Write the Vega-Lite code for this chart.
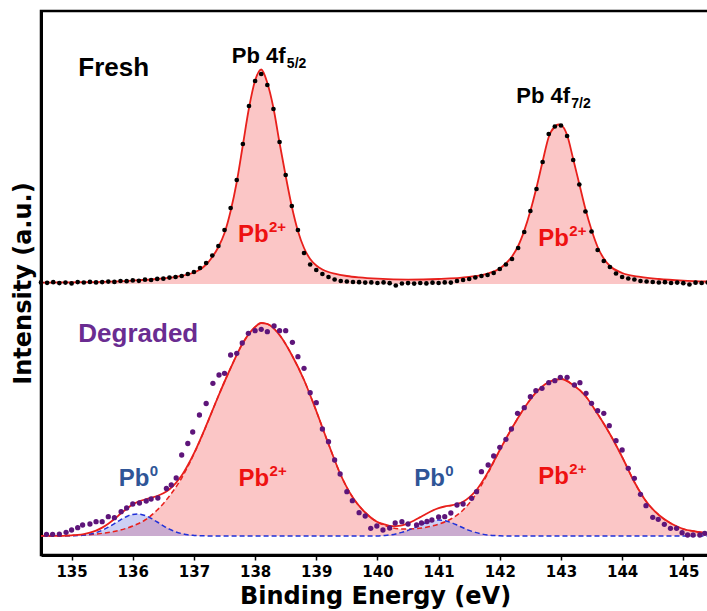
{
  "$schema": "https://vega.github.io/schema/vega-lite/v6.json",
  "width": 668,
  "height": 544,
  "autosize": {"type": "none"},
  "padding": {"left": 41, "top": 11, "right": 0, "bottom": 56},
  "background": "white",
  "config": {"view": {"stroke": "black", "strokeWidth": 2.5}, "axis": {"grid": false}},
  "resolve": {"scale": {"color": "independent"}},
  "datasets": {
    "fresh_fit": [
      {"E":134.5,"I":272.3},{"E":135.0,"I":272.7},{"E":135.5,"I":273.2},{"E":136.0,"I":274.4},{"E":136.4,"I":276.0},{"E":136.7,"I":278.1},
      {"E":137.0,"I":282.5},{"E":137.1,"I":285.5},{"E":137.2,"I":290.5},{"E":137.3,"I":298.0},{"E":137.4,"I":308.0},{"E":137.5,"I":322.0},
      {"E":137.6,"I":344.0},{"E":137.7,"I":373.0},{"E":137.8,"I":410.0},{"E":137.9,"I":447.0},{"E":138.0,"I":474.5},{"E":138.1,"I":485.5},
      {"E":138.2,"I":472.0},{"E":138.3,"I":447.0},{"E":138.4,"I":412.0},{"E":138.5,"I":379.0},{"E":138.6,"I":348.5},{"E":138.7,"I":324.0},
      {"E":138.8,"I":307.0},{"E":138.9,"I":296.0},{"E":139.0,"I":289.5},{"E":139.1,"I":285.5},{"E":139.2,"I":283.0},{"E":139.3,"I":281.3},
      {"E":139.5,"I":279.0},{"E":139.7,"I":277.6},{"E":140.0,"I":276.3},{"E":140.5,"I":275.4},{"E":141.0,"I":276.0},{"E":141.5,"I":278.1},
      {"E":141.8,"I":281.4},{"E":142.0,"I":286.6},{"E":142.1,"I":291.5},{"E":142.2,"I":298.6},{"E":142.3,"I":309.0},{"E":142.4,"I":324.4},
      {"E":142.5,"I":344.0},{"E":142.6,"I":367.5},{"E":142.7,"I":393.5},{"E":142.8,"I":418.0},{"E":142.9,"I":428.5},{"E":142.96,"I":430.5},
      {"E":143.0,"I":430.0},{"E":143.1,"I":420.0},{"E":143.2,"I":396.0},{"E":143.3,"I":371.0},{"E":143.4,"I":346.0},{"E":143.5,"I":325.0},
      {"E":143.6,"I":308.0},{"E":143.7,"I":296.5},{"E":143.8,"I":289.0},{"E":144.0,"I":282.0},{"E":144.3,"I":278.1},{"E":144.6,"I":276.0},
      {"E":145.0,"I":274.4},{"E":145.4,"I":273.5}
    ],
    "fresh_dots": [
      {"E":134.5,"I":272.6},{"E":134.6,"I":272.2},{"E":134.7,"I":272.8},{"E":134.8,"I":271.9},{"E":134.9,"I":272.4},{"E":135.0,"I":271.6},
      {"E":135.1,"I":272.9},{"E":135.2,"I":272.5},{"E":135.3,"I":273.1},{"E":135.4,"I":272.6},{"E":135.5,"I":272.9},{"E":135.6,"I":273.4},
      {"E":135.7,"I":273.1},{"E":135.8,"I":274.0},{"E":135.9,"I":273.8},{"E":136.0,"I":274.6},{"E":136.1,"I":274.2},{"E":136.2,"I":275.3},
      {"E":136.3,"I":275.0},{"E":136.4,"I":276.1},{"E":136.5,"I":276.3},{"E":136.6,"I":277.4},{"E":136.7,"I":278.0},{"E":136.8,"I":279.0},
      {"E":136.9,"I":281.0},{"E":137.0,"I":283.0},{"E":137.1,"I":287.0},{"E":137.2,"I":292.0},{"E":137.3,"I":299.5},{"E":137.4,"I":309.0},
      {"E":137.5,"I":325.0},{"E":137.6,"I":347.0},{"E":137.7,"I":375.0},{"E":137.8,"I":411.0},{"E":137.9,"I":449.0},{"E":138.0,"I":474.0},
      {"E":138.1,"I":481.0},{"E":138.2,"I":470.0},{"E":138.3,"I":446.0},{"E":138.4,"I":413.0},{"E":138.5,"I":380.0},{"E":138.6,"I":349.0},
      {"E":138.7,"I":325.0},{"E":138.8,"I":302.0},{"E":138.9,"I":290.5},{"E":139.0,"I":285.0},{"E":139.1,"I":281.0},{"E":139.2,"I":278.0},
      {"E":139.3,"I":275.5},{"E":139.4,"I":274.0},{"E":139.5,"I":273.5},{"E":139.6,"I":273.0},{"E":139.7,"I":272.8},{"E":139.8,"I":272.4},
      {"E":139.9,"I":272.6},{"E":140.0,"I":272.0},{"E":140.1,"I":272.6},{"E":140.2,"I":271.8},{"E":140.3,"I":269.5},{"E":140.4,"I":271.5},
      {"E":140.5,"I":271.9},{"E":140.6,"I":271.4},{"E":140.7,"I":272.0},{"E":140.8,"I":271.6},{"E":140.9,"I":272.3},{"E":141.0,"I":272.0},
      {"E":141.1,"I":272.6},{"E":141.2,"I":272.4},{"E":141.3,"I":274.0},{"E":141.4,"I":275.0},{"E":141.5,"I":276.0},{"E":141.6,"I":277.5},
      {"E":141.7,"I":279.0},{"E":141.8,"I":280.0},{"E":141.9,"I":282.0},{"E":142.0,"I":286.0},{"E":142.1,"I":290.5},{"E":142.2,"I":296.0},
      {"E":142.3,"I":307.0},{"E":142.4,"I":323.0},{"E":142.5,"I":344.0},{"E":142.6,"I":366.0},{"E":142.7,"I":393.0},{"E":142.8,"I":421.0},
      {"E":142.9,"I":428.5},{"E":143.0,"I":429.5},{"E":143.1,"I":419.0},{"E":143.2,"I":395.0},{"E":143.3,"I":370.5},{"E":143.4,"I":343.5},
      {"E":143.5,"I":323.5},{"E":143.6,"I":305.0},{"E":143.7,"I":294.0},{"E":143.8,"I":288.0},{"E":143.9,"I":281.5},{"E":144.0,"I":278.0},
      {"E":144.1,"I":276.5},{"E":144.2,"I":275.5},{"E":144.3,"I":274.0},{"E":144.4,"I":273.5},{"E":144.5,"I":273.0},{"E":144.6,"I":272.5},
      {"E":144.7,"I":272.8},{"E":144.8,"I":272.0},{"E":144.9,"I":272.4},{"E":145.0,"I":271.8},{"E":145.1,"I":270.5},{"E":145.2,"I":272.3},
      {"E":145.3,"I":272.0},{"E":145.4,"I":272.4}
    ],
    "deg_fit": [
      {"E":134.5,"I":19.1},{"E":134.8,"I":19.2},{"E":135.0,"I":19.7},{"E":135.1,"I":20.1},{"E":135.2,"I":20.9},{"E":135.3,"I":22.3},
      {"E":135.4,"I":24.4},{"E":135.5,"I":27.4},{"E":135.6,"I":31.3},{"E":135.7,"I":36.0},{"E":135.8,"I":41.2},{"E":135.9,"I":46.3},
      {"E":136.0,"I":50.6},{"E":136.1,"I":53.7},{"E":136.2,"I":55.5},{"E":136.3,"I":57.2},{"E":136.4,"I":59.0},{"E":136.5,"I":61.7},
      {"E":136.6,"I":65.8},{"E":136.7,"I":71.7},{"E":136.8,"I":79.4},{"E":136.9,"I":89.7},{"E":137.0,"I":101.6},{"E":137.2,"I":129.3},
      {"E":137.4,"I":159},{"E":137.6,"I":187},{"E":137.8,"I":212},{"E":138.0,"I":228},{"E":138.1,"I":232},{"E":138.2,"I":231},
      {"E":138.4,"I":220},{"E":138.6,"I":200},{"E":138.8,"I":175},{"E":139.0,"I":144},{"E":139.2,"I":111},{"E":139.4,"I":80},
      {"E":139.6,"I":57.2},{"E":139.8,"I":42.5},{"E":140.0,"I":33},{"E":140.1,"I":30.9},{"E":140.2,"I":29.1},{"E":140.3,"I":28.8},
      {"E":140.4,"I":29.6},{"E":140.5,"I":31.7},{"E":140.6,"I":34.5},{"E":140.7,"I":37.9},{"E":140.8,"I":41.3},{"E":140.9,"I":44.4},
      {"E":141.0,"I":46.8},{"E":141.1,"I":48.5},{"E":141.2,"I":49.5},{"E":141.3,"I":51},{"E":141.4,"I":53.2},{"E":141.5,"I":57.6},
      {"E":141.6,"I":63.6},{"E":141.7,"I":72.1},{"E":141.8,"I":82.1},{"E":141.9,"I":93.5},{"E":142.0,"I":105},{"E":142.2,"I":127},
      {"E":142.4,"I":147},{"E":142.6,"I":163},{"E":142.8,"I":173},{"E":143.0,"I":176},{"E":143.2,"I":170},{"E":143.4,"I":159},
      {"E":143.6,"I":141},{"E":143.8,"I":121},{"E":144.0,"I":98},{"E":144.2,"I":73},{"E":144.4,"I":53},{"E":144.6,"I":40},
      {"E":144.8,"I":31.5},{"E":145.0,"I":26},{"E":145.2,"I":23.5},{"E":145.4,"I":21.5}
    ],
    "deg_pb2": [
      {"E":134.5,"I":19},{"E":135.0,"I":19.5},{"E":135.2,"I":20},{"E":135.4,"I":21},{"E":135.6,"I":22.5},{"E":135.8,"I":25},
      {"E":136.0,"I":29},{"E":136.2,"I":35},{"E":136.4,"I":45},{"E":136.6,"I":59},{"E":136.8,"I":77},{"E":137.0,"I":101},
      {"E":137.2,"I":129},{"E":137.4,"I":159},{"E":137.6,"I":187},{"E":137.8,"I":212},{"E":138.0,"I":228},{"E":138.1,"I":232},
      {"E":138.2,"I":231},{"E":138.4,"I":220},{"E":138.6,"I":200},{"E":138.8,"I":175},{"E":139.0,"I":144},{"E":139.2,"I":111},
      {"E":139.4,"I":80},{"E":139.6,"I":57.2},{"E":139.8,"I":42.5},{"E":140.0,"I":33},{"E":140.2,"I":28},{"E":140.4,"I":26},
      {"E":140.6,"I":26.3},{"E":140.8,"I":27.8},{"E":141.0,"I":30.8},{"E":141.2,"I":36},{"E":141.4,"I":45},{"E":141.6,"I":60},
      {"E":141.8,"I":81},{"E":142.0,"I":105},{"E":142.2,"I":127},{"E":142.4,"I":147},{"E":142.6,"I":163},{"E":142.8,"I":173},
      {"E":143.0,"I":176},{"E":143.2,"I":170},{"E":143.4,"I":159},{"E":143.6,"I":141},{"E":143.8,"I":121},{"E":144.0,"I":98},
      {"E":144.2,"I":73},{"E":144.4,"I":53},{"E":144.6,"I":40},{"E":144.8,"I":31.5},{"E":145.0,"I":26},{"E":145.2,"I":23.5},
      {"E":145.4,"I":21.5}
    ],
    "deg_pb0": [
      {"E":134.5,"I":19},{"E":135.0,"I":19.2},{"E":135.1,"I":19.4},{"E":135.2,"I":19.9},{"E":135.3,"I":20.9},{"E":135.4,"I":22.4},
      {"E":135.5,"I":24.7},{"E":135.6,"I":27.8},{"E":135.7,"I":31.4},{"E":135.8,"I":35.2},{"E":135.9,"I":38.5},{"E":136.0,"I":40.6},
      {"E":136.1,"I":40.9},{"E":136.2,"I":39.5},{"E":136.3,"I":36.7},{"E":136.4,"I":33},{"E":136.5,"I":29.2},{"E":136.6,"I":25.8},
      {"E":136.7,"I":23.2},{"E":136.8,"I":21.4},{"E":136.9,"I":20.2},{"E":137.0,"I":19.6},{"E":137.2,"I":19.1},{"E":137.4,"I":19},
      {"E":140.0,"I":19},{"E":140.1,"I":19.5},{"E":140.2,"I":20.1},{"E":140.3,"I":21.1},{"E":140.4,"I":22.6},{"E":140.5,"I":24.6},
      {"E":140.6,"I":27.2},{"E":140.7,"I":30},{"E":140.8,"I":32.5},{"E":140.9,"I":34.3},{"E":141.0,"I":35},{"E":141.1,"I":34.3},
      {"E":141.2,"I":32.5},{"E":141.3,"I":30},{"E":141.4,"I":27.2},{"E":141.5,"I":24.6},{"E":141.6,"I":22.6},{"E":141.7,"I":21.1},
      {"E":141.8,"I":20.1},{"E":141.9,"I":19.5},{"E":142.0,"I":19.2},{"E":142.2,"I":19},{"E":145.4,"I":19}
    ],
    "deg_dots": [
      {"E":134.59,"I":20.7},{"E":134.69,"I":20.7},{"E":134.8,"I":20.9},{"E":134.91,"I":22.7},{"E":135.0,"I":25.0},{"E":135.1,"I":27.3},
      {"E":135.18,"I":30.0},{"E":135.3,"I":31.0},{"E":135.4,"I":33.3},{"E":135.5,"I":33.3},{"E":135.6,"I":38.3},{"E":135.7,"I":37.3},
      {"E":135.81,"I":43.3},{"E":135.9,"I":47.0},{"E":136.0,"I":51.0},{"E":136.11,"I":52.0},{"E":136.22,"I":54.0},{"E":136.3,"I":56.0},
      {"E":136.41,"I":57.0},{"E":136.55,"I":66.5},{"E":136.63,"I":70.0},{"E":136.71,"I":77.0},{"E":136.8,"I":100.0},{"E":136.9,"I":111.5},
      {"E":136.98,"I":123.0},{"E":137.09,"I":140.0},{"E":137.2,"I":151.5},{"E":137.31,"I":171.7},{"E":137.41,"I":180.0},{"E":137.5,"I":181.7},
      {"E":137.6,"I":200.0},{"E":137.7,"I":201.7},{"E":137.79,"I":212.0},{"E":137.89,"I":221.7},{"E":138.0,"I":224.3},{"E":138.1,"I":225.7},
      {"E":138.2,"I":223.3},{"E":138.31,"I":229.0},{"E":138.4,"I":224.3},{"E":138.5,"I":224.3},{"E":138.61,"I":212.7},{"E":138.7,"I":198.3},
      {"E":138.8,"I":186.7},{"E":138.9,"I":162.3},{"E":139.0,"I":152.3},{"E":139.1,"I":126.0},{"E":139.2,"I":113.3},{"E":139.3,"I":95.0},
      {"E":139.39,"I":81.0},{"E":139.5,"I":63.3},{"E":139.59,"I":54.3},{"E":139.7,"I":42.3},{"E":139.8,"I":39.0},{"E":139.89,"I":26.7},
      {"E":139.99,"I":29.0},{"E":140.09,"I":25.0},{"E":140.2,"I":27.0},{"E":140.29,"I":32.0},{"E":140.4,"I":33.3},{"E":140.5,"I":31.0},
      {"E":140.64,"I":30.0},{"E":140.72,"I":32.0},{"E":140.81,"I":33.5},{"E":140.89,"I":35.0},{"E":141.0,"I":38.0},{"E":141.1,"I":38.3},
      {"E":141.2,"I":42.0},{"E":141.3,"I":50.0},{"E":141.4,"I":51.0},{"E":141.54,"I":56.7},{"E":141.62,"I":63.3},{"E":141.7,"I":83.3},
      {"E":141.81,"I":90.0},{"E":141.9,"I":99.0},{"E":142.0,"I":107.7},{"E":142.1,"I":115.7},{"E":142.19,"I":126.0},{"E":142.29,"I":141.7},
      {"E":142.4,"I":147.3},{"E":142.5,"I":158.3},{"E":142.59,"I":164.3},{"E":142.69,"I":166.7},{"E":142.8,"I":172.3},{"E":142.9,"I":174.3},
      {"E":142.99,"I":177.7},{"E":143.1,"I":177.7},{"E":143.22,"I":170.0},{"E":143.31,"I":172.3},{"E":143.41,"I":161.7},{"E":143.5,"I":151.7},
      {"E":143.6,"I":144.3},{"E":143.7,"I":141.7},{"E":143.79,"I":129.3},{"E":143.9,"I":114.3},{"E":144.0,"I":105.0},{"E":144.1,"I":86.7},
      {"E":144.2,"I":76.7},{"E":144.3,"I":60.7},{"E":144.39,"I":49.3},{"E":144.5,"I":37.7},{"E":144.59,"I":35.7},{"E":144.69,"I":30.7},
      {"E":144.79,"I":26.7},{"E":144.89,"I":26.7},{"E":144.98,"I":22.3},{"E":145.07,"I":20.0},{"E":145.16,"I":20.0},{"E":145.27,"I":20.0},
      {"E":145.35,"I":21.7}
    ],
    "samples": [
      {"label":"Fresh","E":135.11,"I":479},
      {"label":"Degraded","E":135.11,"I":213}
    ],
    "orbitals": [
      {"name":"Pb 4f","sub":"5/2","E":137.62,"I":492},
      {"name":"Pb 4f","sub":"7/2","E":142.27,"I":452}
    ],
    "species": [
      {"name":"Pb","sup":"2+","species":"Pb2+","E":137.72,"I":313},
      {"name":"Pb","sup":"2+","species":"Pb2+","E":142.63,"I":309},
      {"name":"Pb","sup":"2+","species":"Pb2+","E":137.73,"I":69},
      {"name":"Pb","sup":"2+","species":"Pb2+","E":142.63,"I":71},
      {"name":"Pb","sup":"0","species":"Pb0","E":135.77,"I":69},
      {"name":"Pb","sup":"0","species":"Pb0","E":140.6,"I":69}
    ]
  },
  "encoding": {
    "x": {
      "field": "E", "type": "quantitative",
      "scale": {"domain": [134.5, 145.42], "nice": false, "zero": false},
      "axis": {
        "values": [135,136,137,138,139,140,141,142,143,144,145],
        "format": "d",
        "title": "Binding Energy (eV)",
        "titleFont": "DejaVu Sans", "titleFontSize": 24, "titleFontWeight": "bold", "titleColor": "black", "titlePadding": 5,
        "labelFont": "DejaVu Sans", "labelFontSize": 15, "labelFontWeight": "bold", "labelColor": "black", "labelPadding": 4,
        "labelFlush": false, "labelOverlap": false,
        "tickSize": 5, "tickWidth": 1.5, "tickColor": "black",
        "domainColor": "black", "domainWidth": 3
      }
    },
    "y": {
      "field": "I", "type": "quantitative",
      "scale": {"domain": [0, 544], "nice": false, "zero": false},
      "axis": {
        "title": "Intensity (a.u.)", "labels": false, "ticks": false,
        "domainColor": "black", "domainWidth": 3,
        "titleFont": "DejaVu Sans", "titleFontSize": 24, "titleFontWeight": "bold", "titleColor": "black", "titlePadding": 6
      }
    }
  },
  "layer": [
    {"data": {"name": "fresh_fit"}, "mark": {"type": "area", "color": "#fbc6c6", "interpolate": "monotone"}, "encoding": {"y2": {"datum": 271}}},
    {"data": {"name": "deg_pb2"}, "mark": {"type": "area", "color": "#fbc6c6", "interpolate": "monotone"}, "encoding": {"y2": {"datum": 19}}},
    {"data": {"name": "deg_pb0"}, "mark": {"type": "area", "color": "#6f78e0", "opacity": 0.35, "interpolate": "monotone"}, "encoding": {"y2": {"datum": 19}}},
    {"data": {"name": "fresh_fit"}, "mark": {"type": "line", "color": "#e8201c", "strokeWidth": 1.8, "interpolate": "monotone"}, "encoding": {}},
    {"data": {"name": "deg_pb2"}, "mark": {"type": "line", "color": "#e8201c", "strokeWidth": 1.5, "strokeDash": [5, 3], "interpolate": "monotone"}, "encoding": {}},
    {"data": {"name": "deg_pb0"}, "mark": {"type": "line", "color": "#2030d8", "strokeWidth": 1.5, "strokeDash": [5, 3], "interpolate": "monotone"}, "encoding": {}},
    {"data": {"name": "deg_fit"}, "mark": {"type": "line", "color": "#e8201c", "strokeWidth": 1.8, "interpolate": "monotone"}, "encoding": {}},
    {"data": {"name": "fresh_dots"}, "mark": {"type": "circle", "color": "black", "size": 22, "opacity": 1}},
    {"data": {"name": "deg_dots"}, "mark": {"type": "circle", "color": "#5e157a", "size": 28, "opacity": 1}},
    {
      "data": {"name": "samples"},
      "mark": {"type": "text", "align": "left", "baseline": "alphabetic", "font": "Liberation Sans", "fontWeight": "bold", "fontSize": 26},
      "encoding": {
        "text": {"field": "label"},
        "color": {"field": "label", "type": "nominal", "scale": {"domain": ["Fresh", "Degraded"], "range": ["#000000", "#6a2c91"]}, "legend": null}
      }
    },
    {
      "data": {"name": "orbitals"},
      "mark": {"type": "text", "align": "left", "baseline": "alphabetic", "font": "Liberation Sans", "fontWeight": "bold", "fontSize": 22, "color": "black"},
      "encoding": {"text": {"field": "name"}}
    },
    {
      "data": {"name": "orbitals"},
      "mark": {"type": "text", "align": "left", "baseline": "alphabetic", "font": "Liberation Sans", "fontWeight": "bold", "fontSize": 14, "color": "black", "dx": 55, "dy": 5},
      "encoding": {"text": {"field": "sub"}}
    },
    {
      "data": {"name": "species"},
      "mark": {"type": "text", "align": "left", "baseline": "alphabetic", "font": "Liberation Sans", "fontWeight": "bold", "fontSize": 24},
      "encoding": {
        "text": {"field": "name"},
        "color": {"field": "species", "type": "nominal", "scale": {"domain": ["Pb2+", "Pb0"], "range": ["#ee1111", "#2f5597"]}, "legend": null}
      }
    },
    {
      "data": {"name": "species"},
      "mark": {"type": "text", "align": "left", "baseline": "alphabetic", "font": "Liberation Sans", "fontWeight": "bold", "fontSize": 15, "dx": 31, "dy": -10},
      "encoding": {
        "text": {"field": "sup"},
        "color": {"field": "species", "type": "nominal", "scale": {"domain": ["Pb2+", "Pb0"], "range": ["#ee1111", "#2f5597"]}, "legend": null}
      }
    }
  ]
}
